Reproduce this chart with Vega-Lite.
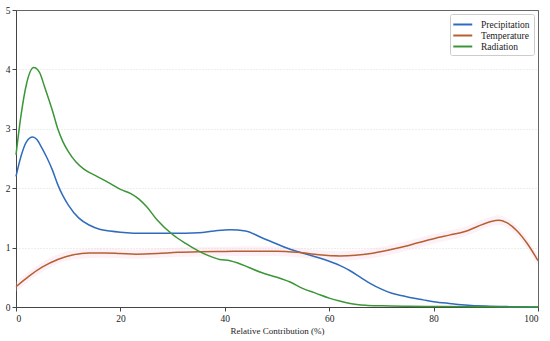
{
  "$schema": "https://vega.github.io/schema/vega-lite/v6.json",
  "width": 522,
  "height": 297,
  "autosize": "none",
  "padding": {"left": 16, "top": 10, "right": 12, "bottom": 34},
  "background": "white",
  "config": {
    "font": "Liberation Serif",
    "view": {"stroke": "#666", "strokeWidth": 1}
  },
  "datasets": {
    "lines": [
      {"series": "Precipitation", "x": 0, "y": 2.2},
      {"series": "Precipitation", "x": 1, "y": 2.55},
      {"series": "Precipitation", "x": 2, "y": 2.78},
      {"series": "Precipitation", "x": 3.2, "y": 2.86},
      {"series": "Precipitation", "x": 4, "y": 2.82},
      {"series": "Precipitation", "x": 5, "y": 2.67},
      {"series": "Precipitation", "x": 6, "y": 2.5},
      {"series": "Precipitation", "x": 7, "y": 2.3},
      {"series": "Precipitation", "x": 8, "y": 2.06},
      {"series": "Precipitation", "x": 9, "y": 1.87},
      {"series": "Precipitation", "x": 10, "y": 1.72},
      {"series": "Precipitation", "x": 12, "y": 1.5},
      {"series": "Precipitation", "x": 14, "y": 1.38},
      {"series": "Precipitation", "x": 16, "y": 1.31},
      {"series": "Precipitation", "x": 18, "y": 1.28},
      {"series": "Precipitation", "x": 20, "y": 1.26},
      {"series": "Precipitation", "x": 25, "y": 1.24},
      {"series": "Precipitation", "x": 30, "y": 1.24},
      {"series": "Precipitation", "x": 35, "y": 1.25},
      {"series": "Precipitation", "x": 38, "y": 1.28},
      {"series": "Precipitation", "x": 41, "y": 1.3},
      {"series": "Precipitation", "x": 44, "y": 1.28},
      {"series": "Precipitation", "x": 47, "y": 1.17},
      {"series": "Precipitation", "x": 50, "y": 1.06},
      {"series": "Precipitation", "x": 52, "y": 0.99},
      {"series": "Precipitation", "x": 55, "y": 0.905},
      {"series": "Precipitation", "x": 58, "y": 0.83},
      {"series": "Precipitation", "x": 60, "y": 0.77},
      {"series": "Precipitation", "x": 62, "y": 0.7},
      {"series": "Precipitation", "x": 64, "y": 0.61},
      {"series": "Precipitation", "x": 66, "y": 0.5},
      {"series": "Precipitation", "x": 68, "y": 0.39},
      {"series": "Precipitation", "x": 70, "y": 0.3},
      {"series": "Precipitation", "x": 72, "y": 0.23},
      {"series": "Precipitation", "x": 74, "y": 0.19},
      {"series": "Precipitation", "x": 76, "y": 0.15},
      {"series": "Precipitation", "x": 78, "y": 0.12},
      {"series": "Precipitation", "x": 80, "y": 0.09},
      {"series": "Precipitation", "x": 83, "y": 0.06},
      {"series": "Precipitation", "x": 86, "y": 0.035},
      {"series": "Precipitation", "x": 90, "y": 0.015},
      {"series": "Precipitation", "x": 95, "y": 0.005},
      {"series": "Precipitation", "x": 100, "y": 0},
      {"series": "Temperature", "x": 0, "y": 0.34},
      {"series": "Temperature", "x": 2.5, "y": 0.52},
      {"series": "Temperature", "x": 5, "y": 0.67},
      {"series": "Temperature", "x": 8, "y": 0.8},
      {"series": "Temperature", "x": 11, "y": 0.88},
      {"series": "Temperature", "x": 14, "y": 0.91},
      {"series": "Temperature", "x": 17, "y": 0.91},
      {"series": "Temperature", "x": 20, "y": 0.9},
      {"series": "Temperature", "x": 23, "y": 0.89},
      {"series": "Temperature", "x": 27, "y": 0.9},
      {"series": "Temperature", "x": 31, "y": 0.92},
      {"series": "Temperature", "x": 35, "y": 0.93},
      {"series": "Temperature", "x": 40, "y": 0.935},
      {"series": "Temperature", "x": 45, "y": 0.94},
      {"series": "Temperature", "x": 50, "y": 0.94},
      {"series": "Temperature", "x": 54, "y": 0.92},
      {"series": "Temperature", "x": 58, "y": 0.88},
      {"series": "Temperature", "x": 62, "y": 0.86},
      {"series": "Temperature", "x": 65, "y": 0.87},
      {"series": "Temperature", "x": 68, "y": 0.9},
      {"series": "Temperature", "x": 71, "y": 0.95},
      {"series": "Temperature", "x": 74, "y": 1.01},
      {"series": "Temperature", "x": 77, "y": 1.08},
      {"series": "Temperature", "x": 80, "y": 1.15},
      {"series": "Temperature", "x": 83, "y": 1.21},
      {"series": "Temperature", "x": 86, "y": 1.27},
      {"series": "Temperature", "x": 88.5, "y": 1.36},
      {"series": "Temperature", "x": 91, "y": 1.44},
      {"series": "Temperature", "x": 92.5, "y": 1.46},
      {"series": "Temperature", "x": 94, "y": 1.42},
      {"series": "Temperature", "x": 96, "y": 1.28},
      {"series": "Temperature", "x": 98, "y": 1.06},
      {"series": "Temperature", "x": 100, "y": 0.78},
      {"series": "Radiation", "x": 0, "y": 2.56},
      {"series": "Radiation", "x": 1, "y": 3.25},
      {"series": "Radiation", "x": 2, "y": 3.75},
      {"series": "Radiation", "x": 3.4, "y": 4.03},
      {"series": "Radiation", "x": 4.5, "y": 3.95},
      {"series": "Radiation", "x": 5.5, "y": 3.7},
      {"series": "Radiation", "x": 7, "y": 3.3},
      {"series": "Radiation", "x": 8, "y": 3.0},
      {"series": "Radiation", "x": 9, "y": 2.78},
      {"series": "Radiation", "x": 10, "y": 2.62},
      {"series": "Radiation", "x": 11.5, "y": 2.44},
      {"series": "Radiation", "x": 13, "y": 2.32},
      {"series": "Radiation", "x": 15.5, "y": 2.2},
      {"series": "Radiation", "x": 18, "y": 2.08},
      {"series": "Radiation", "x": 20, "y": 1.98},
      {"series": "Radiation", "x": 22, "y": 1.91},
      {"series": "Radiation", "x": 23.5, "y": 1.82},
      {"series": "Radiation", "x": 25, "y": 1.69},
      {"series": "Radiation", "x": 27, "y": 1.47},
      {"series": "Radiation", "x": 30, "y": 1.22},
      {"series": "Radiation", "x": 32.5, "y": 1.07},
      {"series": "Radiation", "x": 35, "y": 0.94},
      {"series": "Radiation", "x": 37, "y": 0.86},
      {"series": "Radiation", "x": 39, "y": 0.8},
      {"series": "Radiation", "x": 41, "y": 0.78},
      {"series": "Radiation", "x": 42.5, "y": 0.74},
      {"series": "Radiation", "x": 44.5, "y": 0.67},
      {"series": "Radiation", "x": 47, "y": 0.58},
      {"series": "Radiation", "x": 50, "y": 0.5},
      {"series": "Radiation", "x": 52.5, "y": 0.42},
      {"series": "Radiation", "x": 55, "y": 0.31},
      {"series": "Radiation", "x": 57.5, "y": 0.23},
      {"series": "Radiation", "x": 60, "y": 0.15},
      {"series": "Radiation", "x": 62, "y": 0.1},
      {"series": "Radiation", "x": 64, "y": 0.06},
      {"series": "Radiation", "x": 67, "y": 0.03},
      {"series": "Radiation", "x": 70, "y": 0.02},
      {"series": "Radiation", "x": 75, "y": 0.012},
      {"series": "Radiation", "x": 80, "y": 0.008},
      {"series": "Radiation", "x": 90, "y": 0.003},
      {"series": "Radiation", "x": 100, "y": 0}
    ],
    "band": [
      {"x": 0, "lo": 0.26, "hi": 0.42},
      {"x": 5, "lo": 0.59, "hi": 0.75},
      {"x": 11, "lo": 0.8, "hi": 0.96},
      {"x": 17, "lo": 0.83, "hi": 0.99},
      {"x": 23, "lo": 0.81, "hi": 0.97},
      {"x": 31, "lo": 0.84, "hi": 1.0},
      {"x": 40, "lo": 0.855, "hi": 1.015},
      {"x": 50, "lo": 0.86, "hi": 1.02},
      {"x": 58, "lo": 0.8, "hi": 0.96},
      {"x": 62, "lo": 0.78, "hi": 0.94},
      {"x": 68, "lo": 0.82, "hi": 0.98},
      {"x": 74, "lo": 0.93, "hi": 1.09},
      {"x": 80, "lo": 1.07, "hi": 1.23},
      {"x": 86, "lo": 1.19, "hi": 1.35},
      {"x": 91, "lo": 1.36, "hi": 1.52},
      {"x": 92.5, "lo": 1.38, "hi": 1.54},
      {"x": 96, "lo": 1.2, "hi": 1.36},
      {"x": 100, "lo": 0.7, "hi": 0.86}
    ]
  },
  "layer": [
    {
      "data": {"name": "band"},
      "mark": {"type": "area", "interpolate": "monotone", "color": "#f9c8e0", "opacity": 0.25},
      "encoding": {
        "x": {"field": "x", "type": "quantitative"},
        "y": {"field": "lo", "type": "quantitative"},
        "y2": {"field": "hi"}
      }
    },
    {
      "data": {"name": "lines"},
      "mark": {"type": "line", "interpolate": "monotone", "strokeWidth": 1.5},
      "encoding": {
        "x": {
          "field": "x",
          "type": "quantitative",
          "scale": {"domain": [0, 100], "nice": false},
          "axis": {
            "title": "Relative Contribution (%)",
            "titleFont": "Liberation Serif",
            "titleFontWeight": "normal",
            "titleFontSize": 9,
            "titleColor": "#222",
            "titlePadding": 4,
            "values": [0, 20, 40, 60, 80, 100],
            "format": "d",
            "labelFont": "Liberation Serif",
            "labelFontSize": 9.5,
            "labelColor": "#222",
            "labelPadding": 2,
            "tickSize": 4,
            "tickColor": "#444",
            "domainColor": "#444",
            "grid": false
          }
        },
        "y": {
          "field": "y",
          "type": "quantitative",
          "scale": {"domain": [0, 5], "nice": false},
          "axis": {
            "title": null,
            "values": [0, 1, 2, 3, 4, 5],
            "format": "d",
            "labelFont": "Liberation Serif",
            "labelFontSize": 9.5,
            "labelColor": "#222",
            "labelPadding": 2,
            "tickSize": 4,
            "tickColor": "#444",
            "domainColor": "#444",
            "grid": true,
            "gridColor": {"condition": {"test": "datum.value == 5", "value": "#666"}, "value": "#dddddd"},
            "gridDash": {"condition": {"test": "datum.value == 5", "value": []}, "value": [1, 2]},
            "gridWidth": 1
          }
        },
        "color": {
          "field": "series",
          "type": "nominal",
          "scale": {
            "domain": ["Precipitation", "Temperature", "Radiation"],
            "range": ["#2f6bbd", "#b5602f", "#3a9636"]
          },
          "legend": {
            "title": null,
            "orient": "top-right",
            "offset": 4,
            "symbolType": "M-1.38,0H2.24",
            "symbolStrokeWidth": 2,
            "symbolSize": 110,
            "labelFont": "Liberation Serif",
            "labelFontSize": 9.5,
            "labelColor": "#222",
            "labelOffset": 14,
            "rowPadding": 0,
            "strokeColor": "#cccccc",
            "fillColor": "white",
            "padding": 4,
            "cornerRadius": 2
          }
        }
      }
    }
  ]
}
